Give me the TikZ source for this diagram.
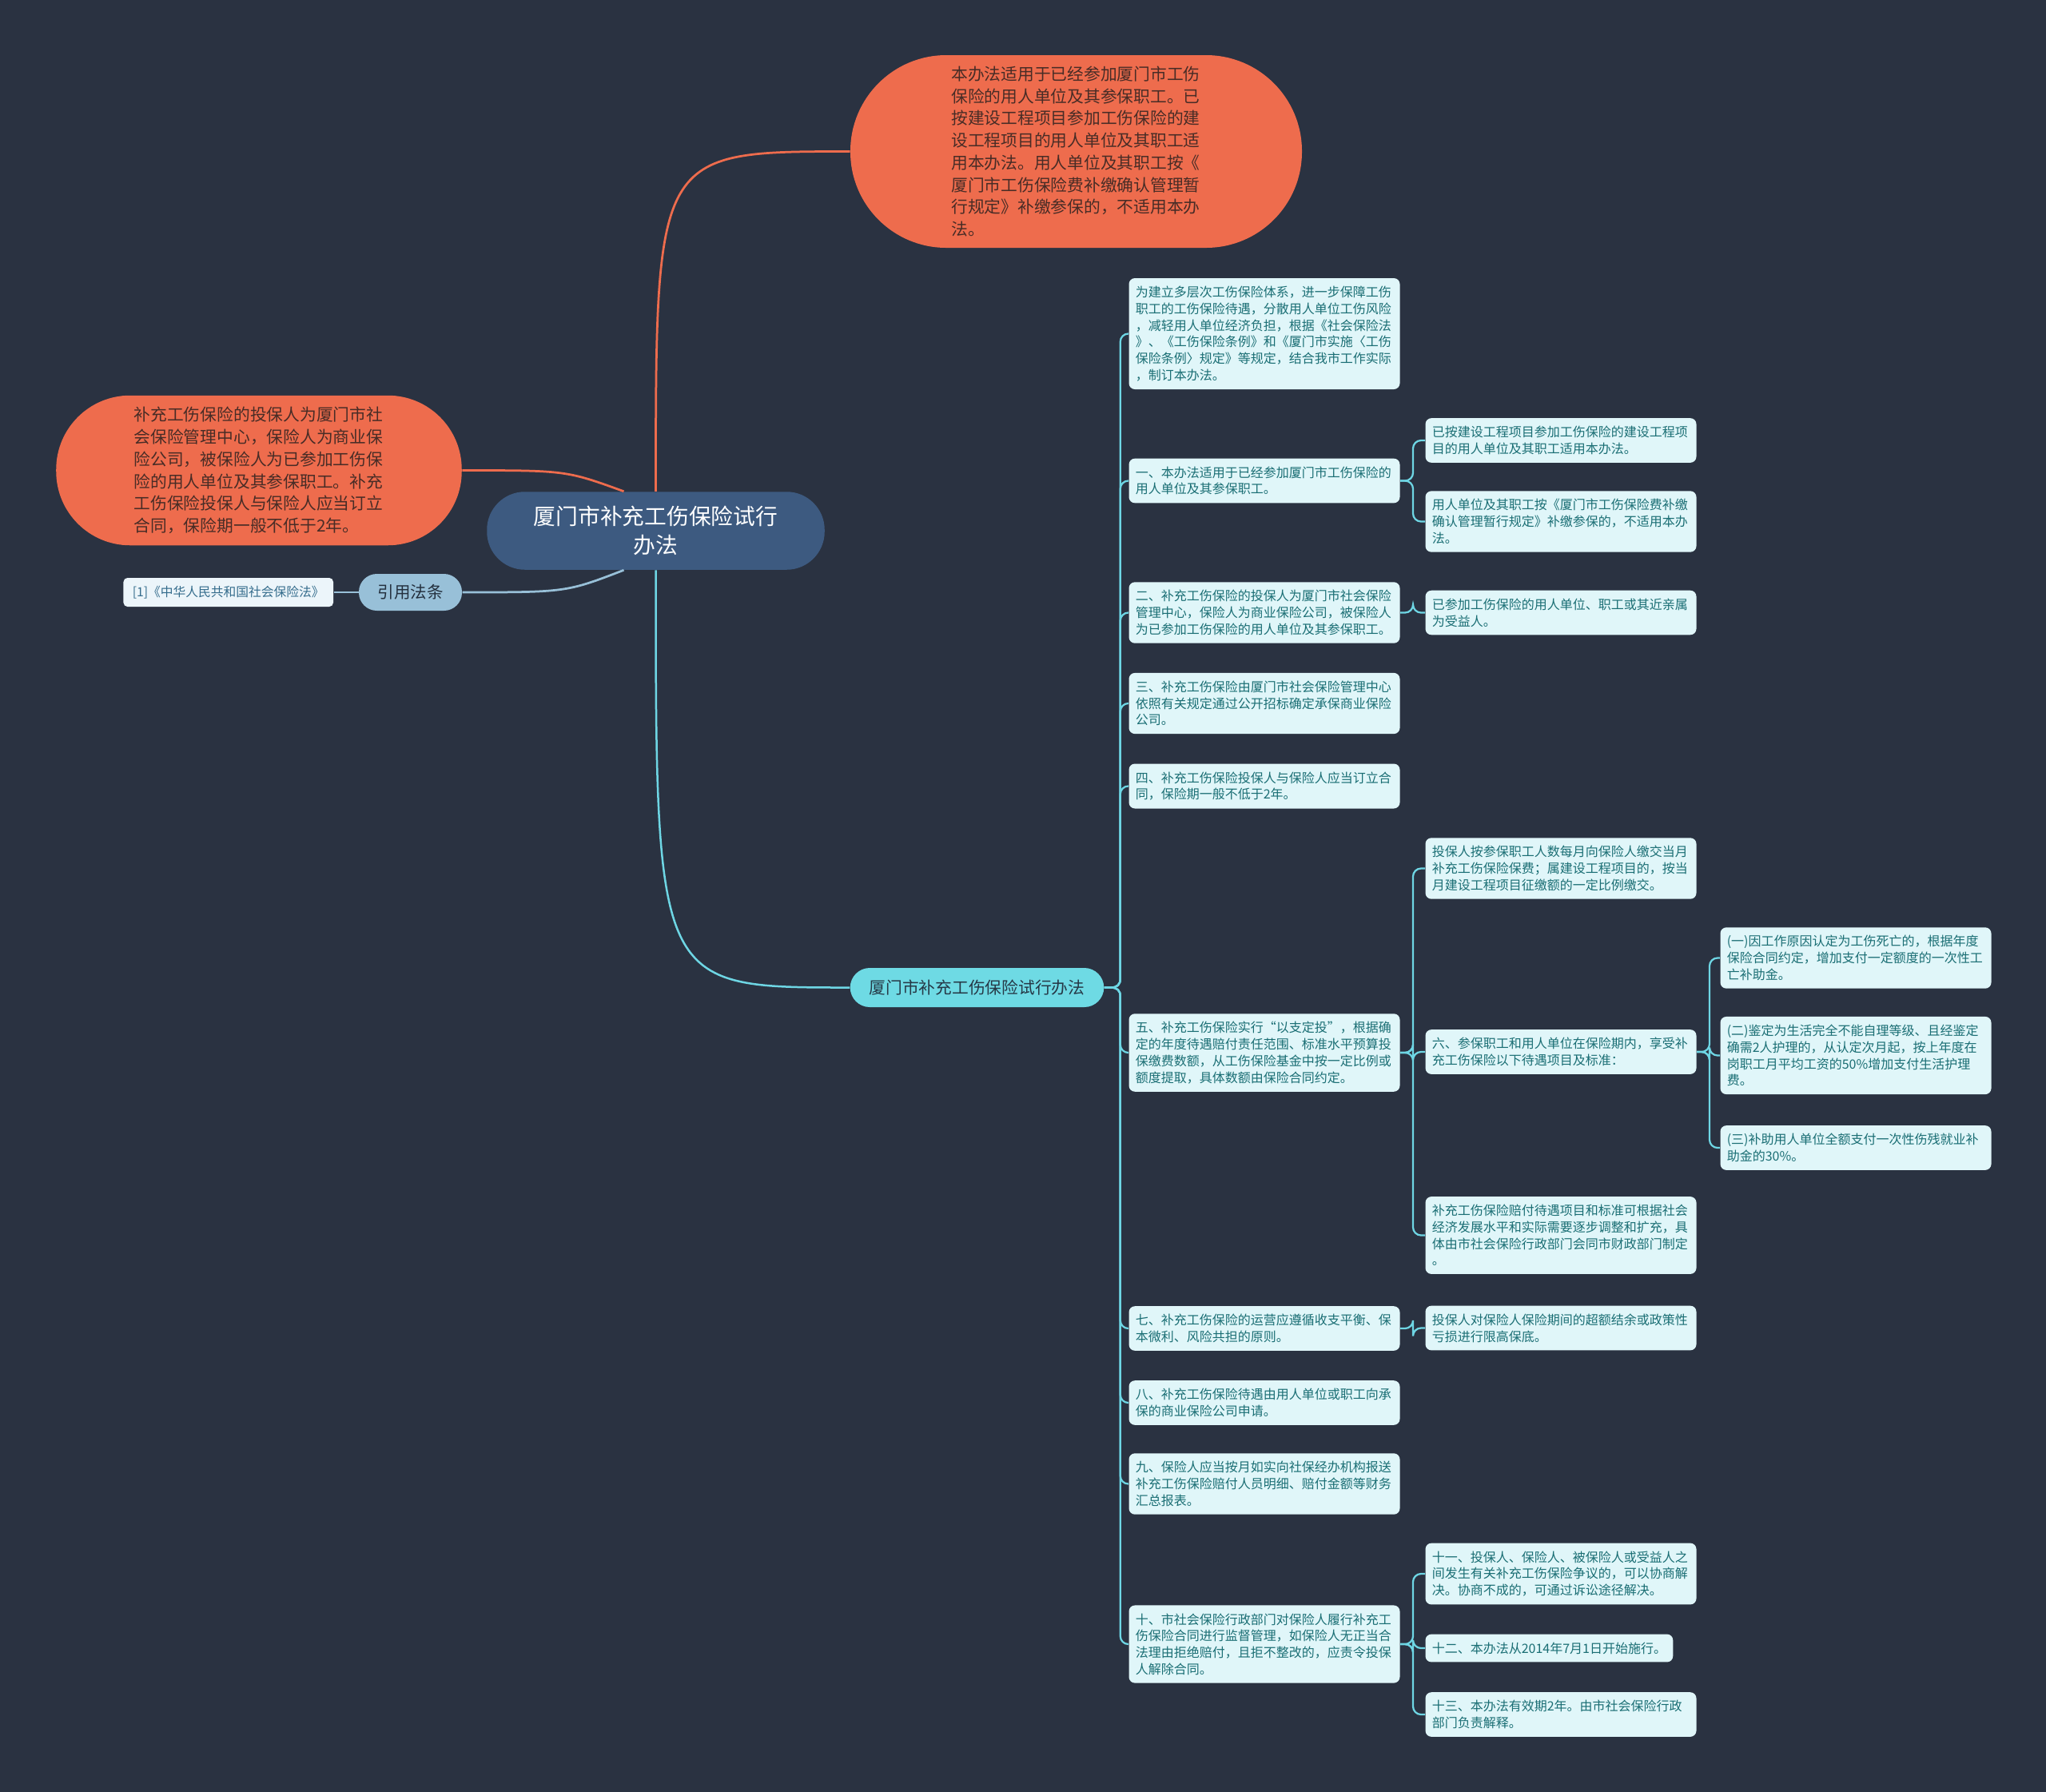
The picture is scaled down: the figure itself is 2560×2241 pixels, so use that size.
\documentclass[tikz,border=0pt]{standalone}
\usepackage{fontspec}
\setmainfont{Noto Sans CJK SC}
\definecolor{MapBg}{RGB}{42,50,65}
\definecolor{MapOrange}{RGB}{238,108,77}
\definecolor{OrangeText}{RGB}{72,44,38}
\definecolor{RootBlue}{RGB}{61,90,128}
\definecolor{TopicCyan}{RGB}{110,218,228}
\definecolor{TopicText}{RGB}{38,56,70}
\definecolor{LeafFill}{RGB}{224,246,249}
\definecolor{LeafText}{RGB}{26,110,116}
\definecolor{LinkCyan}{RGB}{110,214,228}
\definecolor{RefBlue}{RGB}{152,192,216}
\definecolor{RefText}{RGB}{36,48,62}
\definecolor{CiteFill}{RGB}{236,245,250}
\definecolor{CiteText}{RGB}{52,108,140}
\usetikzlibrary{positioning,calc}

\begin{document}
\begin{tikzpicture}[
  x=0.4pt,y=-0.4pt,
  roottopic/.style={fill=RootBlue,text=white,align=center,rounded corners=19pt,
    minimum width=169pt,minimum height=39pt,font=\fontsize{11.1pt}{14.4pt}\selectfont},
  bubble/.style={fill=MapOrange,text=OrangeText,align=left,text width=125pt,
    font=\fontsize{8.3pt}{11.1pt}\selectfont},
  subtopic/.style={fill=TopicCyan,text=TopicText,rounded corners=9.8pt,
    minimum width=127pt,minimum height=19.6pt,font=\fontsize{8.3pt}{9.7pt}\selectfont},
  reftopic/.style={fill=RefBlue,text=RefText,rounded corners=9pt,
    minimum width=51.6pt,minimum height=18.4pt,font=\fontsize{8.2pt}{9.7pt}\selectfont},
  citebox/.style={fill=CiteFill,text=CiteText,rounded corners=2pt,
    minimum width=105pt,minimum height=14.4pt,font=\fontsize{6.3pt}{8pt}\selectfont},
  leaf/.style={fill=LeafFill,text=LeafText,rounded corners=3pt,align=left,anchor=west,
    inner xsep=3.3pt,inner ysep=4pt,font=\fontsize{6.4pt}{8.3pt}\selectfont},
  wideleaf/.style={leaf,text width=129pt},
  olink/.style={MapOrange,line width=1.1pt},
  clink/.style={LinkCyan,line width=1pt},
  blink/.style={RefBlue,line width=1.1pt},
  tree/.style={LinkCyan,line width=0.9pt,rounded corners=4pt}
]
\useasboundingbox (0,0) rectangle (2560,2241);
\fill[MapBg] (-10,-10) rectangle (2570,2251);

\node[roottopic] (root) at (820.5,664) {厦门市补充工伤保险试行\\办法};
\node[bubble,minimum width=226pt,minimum height=96.4pt,rounded corners=48pt] (shiyong) at (1346.5,189.5)
  {本办法适用于已经参加厦门市工伤\\保险的用人单位及其参保职工。已\\按建设工程项目参加工伤保险的建\\设工程项目的用人单位及其职工适\\用本办法。用人单位及其职工按《\\厦门市工伤保险费补缴确认管理暂\\行规定》补缴参保的，不适用本办\\法。};
\node[bubble,minimum width=203pt,minimum height=75pt,rounded corners=37pt] (toubao) at (324,588.5)
  {补充工伤保险的投保人为厦门市社\\会保险管理中心，保险人为商业保\\险公司，被保险人为已参加工伤保\\险的用人单位及其参保职工。补充\\工伤保险投保人与保险人应当订立\\合同，保险期一般不低于2年。};
\node[reftopic] (yinyong) at (513.5,741) {引用法条};
\node[citebox,left=12.4pt of yinyong] (fagui) {[1]《中华人民共和国社会保险法》};
\node[subtopic] (banfa) at (1222.5,1235.5) {厦门市补充工伤保险试行办法};

\node[wideleaf] (qian) at (1412,417.5) {为建立多层次工伤保险体系，进一步保障工伤\\职工的工伤保险待遇，分散用人单位工伤风险\\，减轻用人单位经济负担，根据《社会保险法\\》、《工伤保险条例》和《厦门市实施〈工伤\\保险条例〉规定》等规定，结合我市工作实际\\，制订本办法。};
\node[wideleaf] (t1) at (1412,601.5) {一、本办法适用于已经参加厦门市工伤保险的\\用人单位及其参保职工。};
\node[wideleaf] (t2) at (1412,766.5) {二、补充工伤保险的投保人为厦门市社会保险\\管理中心，保险人为商业保险公司，被保险人\\为已参加工伤保险的用人单位及其参保职工。};
\node[wideleaf] (t3) at (1412,880) {三、补充工伤保险由厦门市社会保险管理中心\\依照有关规定通过公开招标确定承保商业保险\\公司。};
\node[wideleaf] (t4) at (1412,983.5) {四、补充工伤保险投保人与保险人应当订立合\\同，保险期一般不低于2年。};
\node[wideleaf] (t5) at (1412,1317) {五、补充工伤保险实行“以支定投”，根据确\\定的年度待遇赔付责任范围、标准水平预算投\\保缴费数额，从工伤保险基金中按一定比例或\\额度提取，具体数额由保险合同约定。};
\node[wideleaf] (t7) at (1412,1662) {七、补充工伤保险的运营应遵循收支平衡、保\\本微利、风险共担的原则。};
\node[wideleaf] (t8) at (1412,1755) {八、补充工伤保险待遇由用人单位或职工向承\\保的商业保险公司申请。};
\node[wideleaf] (t9) at (1412,1856.5) {九、保险人应当按月如实向社保经办机构报送\\补充工伤保险赔付人员明细、赔付金额等财务\\汇总报表。};
\node[wideleaf] (t10) at (1412,2057) {十、市社会保险行政部门对保险人履行补充工\\伤保险合同进行监督管理，如保险人无正当合\\法理由拒绝赔付，且拒不整改的，应责令投保\\人解除合同。};

\node[wideleaf] (t1a) at (1783,551) {已按建设工程项目参加工伤保险的建设工程项\\目的用人单位及其职工适用本办法。};
\node[wideleaf] (t1b) at (1783,652.5) {用人单位及其职工按《厦门市工伤保险费补缴\\确认管理暂行规定》补缴参保的，不适用本办\\法。};
\node[wideleaf] (t2a) at (1783,766.5) {已参加工伤保险的用人单位、职工或其近亲属\\为受益人。};
\node[wideleaf] (t5a) at (1783,1086.5) {投保人按参保职工人数每月向保险人缴交当月\\补充工伤保险保费；属建设工程项目的，按当\\月建设工程项目征缴额的一定比例缴交。};
\node[wideleaf] (t6) at (1783,1316) {六、参保职工和用人单位在保险期内，享受补\\充工伤保险以下待遇项目及标准：};
\node[wideleaf] (t5c) at (1783,1545.5) {补充工伤保险赔付待遇项目和标准可根据社会\\经济发展水平和实际需要逐步调整和扩充，具\\体由市社会保险行政部门会同市财政部门制定\\。};
\node[wideleaf] (t7a) at (1783,1661.5) {投保人对保险人保险期间的超额结余或政策性\\亏损进行限高保底。};
\node[wideleaf] (t11) at (1783,1969) {十一、投保人、保险人、被保险人或受益人之\\间发生有关补充工伤保险争议的，可以协商解\\决。协商不成的，可通过诉讼途径解决。};
\node[leaf] (t12) at (1783,2062) {十二、本办法从2014年7月1日开始施行。};
\node[wideleaf] (t13) at (1783,2145) {十三、本办法有效期2年。由市社会保险行政\\部门负责解释。};

\node[wideleaf] (t6a) at (2152,1198.5) {(一)因工作原因认定为工伤死亡的，根据年度\\保险合同约定，增加支付一定额度的一次性工\\亡补助金。};
\node[wideleaf] (t6b) at (2152,1320.5) {(二)鉴定为生活完全不能自理等级、且经鉴定\\确需2人护理的，从认定次月起，按上年度在\\岗职工月平均工资的50\%增加支付生活护理\\费。};
\node[wideleaf] (t6c) at (2152,1436) {(三)补助用人单位全额支付一次性伤残就业补\\助金的30\%。};

\draw[olink] (root.north) .. controls (root.north |- shiyong.west) .. (shiyong.west);
\draw[olink] (toubao.east) .. controls +(130,0) .. ($(root.north)+(-40,0)$);
\draw[blink] (yinyong.east) .. controls +(130,0) .. ($(root.south)+(-40,0)$);
\draw[blink] (fagui) -- (yinyong);
\draw[clink] (root.south) .. controls (root.south |- banfa.west) .. (banfa.west);

\foreach \n in {qian,t1,t2,t3,t4,t5,t7,t8,t9,t10}
  \draw[tree] (banfa.east) -- ++(20,0) |- (\n.west);
\foreach \p/\c in {t1/t1a,t1/t1b,t2/t2a,t5/t5a,t5/t6,t5/t5c,t7/t7a,t10/t11,t10/t12,t10/t13}
  \draw[tree] (\p.east) -- ++(16,0) |- (\c.west);
\foreach \n in {t6a,t6b,t6c}
  \draw[tree] (t6.east) -- ++(16,0) |- (\n.west);
\end{tikzpicture}
\end{document}
